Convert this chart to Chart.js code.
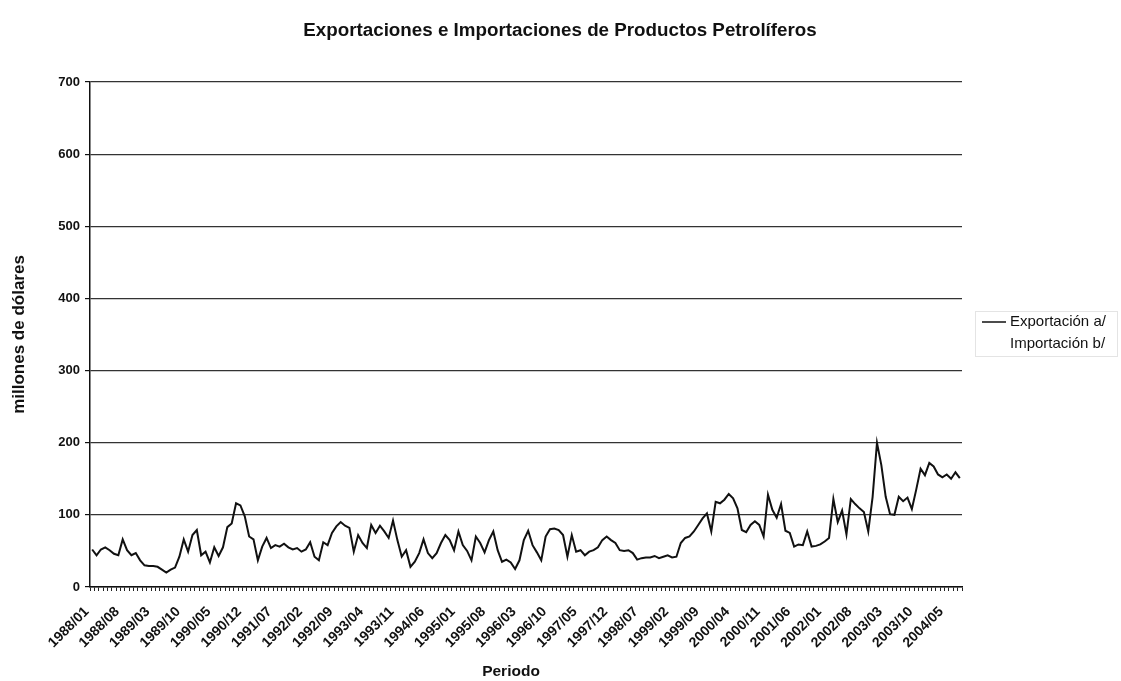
<!DOCTYPE html>
<html>
<head>
<meta charset="utf-8">
<script src="https://cdn.jsdelivr.net/npm/chart.js@4.4.1/dist/chart.umd.min.js"></script>
<style>
  body { margin: 0; background: #fff; }
  #wrap { width: 1121px; height: 681px; }
</style>
</head>
<body>
<div id="wrap"><canvas id="grafico" width="1121" height="681"></canvas></div>
<script>
// periodo mensual 1988/01 - 2004/08
const startYear = 1988;
const nMonths = 200;
const meses = [];
for (let i = 0; i < nMonths; i++) {
    const y = startYear + Math.floor(i / 12);
    const m = (i % 12) + 1;
    meses.push(y + '/' + (m < 10 ? '0' + m : m));
}

// etiquetas visibles del eje x (cada 7 meses)
const etiquetasX = ['1988/01', '1988/08', '1989/03', '1989/10', '1990/05', '1990/12', '1991/07',
    '1992/02', '1992/09', '1993/04', '1993/11', '1994/06', '1995/01', '1995/08', '1996/03',
    '1996/10', '1997/05', '1997/12', '1998/07', '1999/02', '1999/09', '2000/04', '2000/11',
    '2001/06', '2002/01', '2002/08', '2003/03', '2003/10', '2004/05'];

// millones de dolares
const exportacion = [
    52, 44, 52, 55, 51, 46, 44, 66, 51, 44, 47, 37, 30, 29, 29, 28, 24, 20, 24, 27,
    42, 66, 49, 72, 79, 44, 49, 34, 55, 43, 55, 83, 88, 116, 113, 98, 70, 66, 37, 56,
    68, 54, 58, 56, 60, 55, 52, 54, 49, 52, 62, 42, 37, 62, 58, 75, 84, 90, 85, 82,
    49, 72, 61, 54, 86, 75, 85, 77, 68, 92, 65, 42, 51, 28, 35, 47, 66, 47, 40, 47,
    61, 72, 65, 51, 77, 58, 50, 37, 70, 61, 48, 65, 77, 51, 35, 38, 34, 25, 37, 65,
    78, 58, 48, 37, 70, 80, 81, 79, 72, 42, 72, 49, 51, 44, 49, 51, 55, 65, 70, 65,
    61, 51, 50, 51, 47, 38, 40, 41, 41, 43, 40, 42, 44, 41, 42, 61, 68, 70, 77, 86,
    95, 102, 77, 118, 116, 121, 129, 123, 109, 79, 76, 86, 91, 86, 70, 128, 107, 96, 115, 78,
    75, 56, 59, 58, 77, 56, 57, 59, 63, 68, 122, 90, 106, 73, 122, 115, 109, 104, 77, 125,
    200, 169, 125, 101, 100, 125, 119, 124, 108, 135, 164, 155, 172, 167, 156, 152, 156, 150, 159, 151
];
const importacion = [];

const titulo = 'Exportaciones e Importaciones de Productos Petrolíferos';
const tituloX = 'Periodo';

// titulo, titulo del eje x y leyenda
const textos = {
    id: 'textos',
    afterDraw(chart) {
        const ctx = chart.ctx;
        ctx.save();
        ctx.fillStyle = '#111';
        ctx.textAlign = 'center';
        ctx.textBaseline = 'middle';
        ctx.font = 'bold 18.8px Arial';
        ctx.fillText(titulo, 560, 31);
        ctx.font = 'bold 15.5px Arial';
        ctx.fillText(tituloX, 511, 672);

        ctx.strokeStyle = '#e4e4e4';
        ctx.lineWidth = 1;
        ctx.strokeRect(975.5, 311.5, 142, 45);
        ctx.font = '15px Arial';
        ctx.textAlign = 'left';
        chart.data.datasets.forEach((ds, i) => {
            const y = 322 + i * 22;
            ctx.strokeStyle = ds.borderColor;
            ctx.lineWidth = 1.5;
            ctx.beginPath();
            ctx.moveTo(982, y);
            ctx.lineTo(1006, y);
            ctx.stroke();
            ctx.fillText(ds.label, 1010, y);
        });
        ctx.restore();
    }
};

const ctx = document.getElementById('grafico').getContext('2d');
new Chart(ctx, {
    type: 'line',
    data: {
        labels: meses,
        datasets: [{
            label: 'Exportación a/',
            data: exportacion,
            borderColor: '#111',
            borderWidth: 2,
            pointRadius: 0,
            tension: 0,
            fill: false
        }, {
            label: 'Importación b/',
            data: importacion,
            borderColor: '#ffffff',
            borderWidth: 2,
            pointRadius: 0,
            fill: false
        }]
    },
    options: {
        responsive: false,
        devicePixelRatio: 1,
        animation: false,
        layout: { padding: { left: 0, right: 159, top: 82, bottom: 0 } },
        plugins: {
            legend: { display: false },
            tooltip: { enabled: false },
            title: { display: false }
        },
        scales: {
            x: {
                offset: true,
                afterFit: s => { s.height = 94; },
                grid: { display: true, drawOnChartArea: false, drawTicks: true, tickLength: 4, offset: true, tickColor: '#222' },
                border: { color: '#111', width: 1.5 },
                ticks: {
                    autoSkip: false,
                    maxRotation: 45,
                    minRotation: 45,
                    padding: 7,
                    color: '#111',
                    font: { family: 'Arial', size: 14, weight: 'bold' },
                    callback: function (v, i) {
                        const lab = meses[i];
                        return etiquetasX.includes(lab) ? lab + '  ' : '';
                    }
                }
            },
            y: {
                min: 0,
                max: 700,
                afterFit: s => { s.width = 90; },
                grid: { color: '#333', lineWidth: 1.2, tickLength: 5, tickColor: '#111' },
                border: { color: '#111', width: 1.5 },
                ticks: {
                    stepSize: 100,
                    padding: 5,
                    color: '#111',
                    font: { family: 'Arial', size: 13, weight: 'bold' }
                },
                title: {
                    display: true,
                    text: 'millones de dólares',
                    color: '#111',
                    font: { family: 'Arial', size: 17, weight: 'bold' },
                    padding: { top: 9, bottom: 0 }
                }
            }
        }
    },
    plugins: [textos]
});
</script>
</body>
</html>
